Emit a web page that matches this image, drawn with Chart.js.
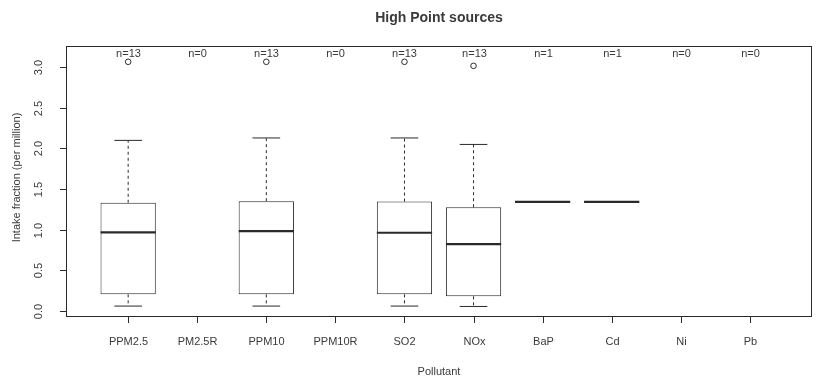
<!DOCTYPE html>
<html>
<head>
<meta charset="utf-8">
<script src="https://cdn.jsdelivr.net/npm/chart.js@4.4.0/dist/chart.umd.min.js"></script>
<style>
  html, body { margin: 0; padding: 0; background: #ffffff; }
  #wrap { width: 817px; height: 381px; }
</style>
</head>
<body>
<div id="wrap"><canvas id="boxChart" width="817" height="381"></canvas></div>
<script>
// Data
const categories = ["PPM2.5", "PM2.5R", "PPM10", "PPM10R", "SO2", "NOx", "BaP", "Cd", "Ni", "Pb"];
const counts = [13, 0, 13, 0, 13, 13, 1, 1, 0, 0];
const whiskerLow = [0.055, null, 0.055, null, 0.055, 0.05, 1.34, 1.34, null, null];
const lowerQuartile = [0.20, null, 0.20, null, 0.20, 0.175, 1.34, 1.34, null, null];
const medians = [0.965, null, 0.98, null, 0.96, 0.82, 1.34, 1.34, null, null];
const upperQuartile = [1.33, null, 1.35, null, 1.345, 1.275, 1.34, 1.34, null, null];
const whiskerHigh = [2.10, null, 2.13, null, 2.13, 2.05, 1.34, 1.34, null, null];
const outliers = [[3.07], [], [3.07], [], [3.07], [3.02], [], [], [], []];
const yTicks = [0, 0.5, 1, 1.5, 2, 2.5, 3];

const lineColor = "#2a2a2a";
const textColor = "#3a3a3a";
const fontFamily = "'Liberation Sans', Arial, sans-serif";

// Boxes as floating bars (only real boxes, not the single-value ones)
const boxData = [];
categories.forEach((c, i) => {
    if (counts[i] > 1) {
        boxData.push({ x: i + 1, y: [lowerQuartile[i], upperQuartile[i]] });
    }
});

const outlierData = [];
outliers.forEach((list, i) => {
    list.forEach(v => outlierData.push({ x: i + 1, y: v }));
});

// Whiskers, medians, frame, axes and texts
const boxExtras = {
    id: "boxExtras",
    afterDatasetsDraw(chart) {
        const { ctx, chartArea: a, scales: { x, y } } = chart;
        const unit = x.getPixelForValue(2) - x.getPixelForValue(1);
        const boxHalf = unit * 0.4;
        const capHalf = unit * 0.2;

        function line(x1, y1, x2, y2) {
            ctx.beginPath();
            ctx.moveTo(x1, y1);
            ctx.lineTo(x2, y2);
            ctx.stroke();
        }

        ctx.save();
        ctx.strokeStyle = lineColor;

        categories.forEach((c, i) => {
            if (!counts[i]) return;
            const cx = x.getPixelForValue(i + 1);

            // dashed whiskers
            ctx.lineWidth = 1;
            ctx.setLineDash([3, 3]);
            line(cx, y.getPixelForValue(upperQuartile[i]), cx, y.getPixelForValue(whiskerHigh[i]));
            line(cx, y.getPixelForValue(lowerQuartile[i]), cx, y.getPixelForValue(whiskerLow[i]));
            ctx.setLineDash([]);

            // staples
            if (counts[i] > 1) {
                line(cx - capHalf, y.getPixelForValue(whiskerHigh[i]), cx + capHalf, y.getPixelForValue(whiskerHigh[i]));
                line(cx - capHalf, y.getPixelForValue(whiskerLow[i]), cx + capHalf, y.getPixelForValue(whiskerLow[i]));
            }

            // median
            ctx.lineWidth = 2.2;
            line(cx - boxHalf, y.getPixelForValue(medians[i]), cx + boxHalf, y.getPixelForValue(medians[i]));
        });

        // frame
        ctx.lineWidth = 1;
        ctx.strokeRect(a.left + 0.5, a.top + 0.5, a.right - a.left - 1, a.bottom - a.top - 1);

        // x ticks and labels
        ctx.fillStyle = textColor;
        ctx.font = "11px " + fontFamily;
        ctx.textAlign = "center";
        ctx.textBaseline = "middle";
        categories.forEach((c, i) => {
            const cx = Math.round(x.getPixelForValue(i + 1)) + 0.5;
            line(cx, a.bottom, cx, a.bottom + 6);
            ctx.fillText(c, cx, a.bottom + 25);
            // n= labels at the top
            ctx.fillText("n=" + counts[i], cx, a.top + 8);
        });

        // y ticks and rotated labels
        yTicks.forEach(v => {
            const py = Math.round(y.getPixelForValue(v)) + 0.5;
            line(a.left - 6, py, a.left, py);
            ctx.save();
            ctx.translate(a.left - 27, py);
            ctx.rotate(-Math.PI / 2);
            ctx.fillText(v.toFixed(1), 0, 0);
            ctx.restore();
        });

        // axis titles
        ctx.fillText("Pollutant", (a.left + a.right) / 2, a.bottom + 55);
        ctx.save();
        ctx.translate(17, (a.top + a.bottom) / 2 - 4);
        ctx.rotate(-Math.PI / 2);
        ctx.fillText("Intake fraction (per million)", 0, 0);
        ctx.restore();

        // main title
        ctx.font = "bold 14px " + fontFamily;
        ctx.fillText("High Point sources", (a.left + a.right) / 2, 18);

        ctx.restore();
    }
};

const chart = new Chart(document.getElementById("boxChart"), {
    type: "bar",
    data: {
        datasets: [
            {
                type: "bar",
                data: boxData,
                backgroundColor: "#ffffff",
                borderColor: lineColor,
                borderWidth: 1,
                borderSkipped: false,
                barPercentage: 0.8,
                categoryPercentage: 1
            },
            {
                type: "scatter",
                data: outlierData,
                pointStyle: "circle",
                pointRadius: 2.8,
                pointBorderWidth: 1,
                pointBackgroundColor: "#ffffff",
                pointBorderColor: lineColor
            }
        ]
    },
    options: {
        responsive: false,
        animation: false,
        layout: {
            padding: { left: 66, right: 4, top: 46, bottom: 64 }
        },
        plugins: {
            legend: { display: false },
            tooltip: { enabled: false }
        },
        scales: {
            x: {
                type: "linear",
                min: 0.1,
                max: 10.9,
                offset: false,
                display: false,
                afterBuildTicks: scale => {
                    scale.ticks = categories.map((c, i) => ({ value: i + 1 }));
                }
            },
            y: {
                type: "linear",
                min: -0.08,
                max: 3.265,
                display: false,
                afterBuildTicks: scale => {
                    scale.ticks = yTicks.map(v => ({ value: v }));
                }
            }
        }
    },
    plugins: [boxExtras]
});
</script>
</body>
</html>
